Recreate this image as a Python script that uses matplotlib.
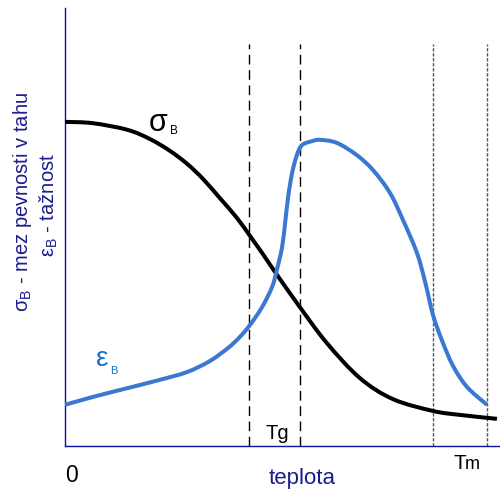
import matplotlib
matplotlib.use("Agg")
import matplotlib.pyplot as plt
from matplotlib.path import Path
from matplotlib.patches import PathPatch

plt.rcParams.update({
    "font.family": ["Liberation Sans", "DejaVu Sans"],
    "mathtext.fontset": "custom",
    "mathtext.rm": "Liberation Sans",
    "mathtext.it": "Liberation Sans:italic",
    "mathtext.bf": "Liberation Sans:bold",
})

# --- křivky (teplota 0..100, hodnota 0..100) ---
sigma_t = [0, 6.4, 14.3, 19.5, 24.1, 28.1, 31.7, 35.6, 39.5, 42.5, 45.5,
           48.3, 54.0, 60.2, 67.8, 75.4, 84.6, 90.8, 99.3]
sigma_v = [74.0, 73.7, 72.2, 70.1, 67.4, 64.4, 61.0, 56.6, 52.1, 48.0, 43.8,
           39.7, 31.7, 23.5, 15.5, 10.7, 8.0, 7.1, 6.2]

eps_t = [0, 6.4, 14.3, 21.8, 28.1, 33.3, 37.5, 40.2, 42.5, 45.3, 47.6, 48.7,
         49.9, 50.6, 51.3, 52.2, 53.3, 54.5, 56.8, 58.6, 62.5, 67.1, 70.8,
         74.7, 77.7, 80.9, 82.8, 84.6, 86.7, 89.2, 92.4, 97.0]
eps_v = [9.4, 11.2, 13.2, 15.1, 16.9, 19.4, 22.4, 24.9, 27.6, 31.7, 36.3,
         40.2, 45.4, 50.9, 56.9, 62.3, 66.4, 68.7, 69.6, 69.9, 69.2, 66.4,
         63.0, 57.8, 51.6, 44.1, 37.4, 29.9, 24.0, 18.3, 13.5, 9.4]

# oblast skelného přechodu a tání
tg_lines = [42.3, 54.0]
tm_lines = [84.6, 97.0]
line_top = 91.8

NAVY = "#1c1c8e"
SPINE = "#1010a0"
BLUE = "#3a78d2"
EPS_TXT = "#1f6fc4"


def smooth_path(xs, ys):
    """Hladká Bézierova cesta procházející zadanými body (Catmull-Rom)."""
    pts = list(zip(xs, ys))
    verts = [pts[0]]
    codes = [Path.MOVETO]
    n = len(pts)
    for i in range(n - 1):
        p0 = pts[i - 1] if i > 0 else pts[i]
        p1 = pts[i]
        p2 = pts[i + 1]
        p3 = pts[i + 2] if i + 2 < n else pts[i + 1]
        c1 = (p1[0] + (p2[0] - p0[0]) / 6, p1[1] + (p2[1] - p0[1]) / 6)
        c2 = (p2[0] - (p3[0] - p1[0]) / 6, p2[1] - (p3[1] - p1[1]) / 6)
        verts += [c1, c2, p2]
        codes += [Path.CURVE4] * 3
    return Path(verts, codes)


fig = plt.figure(figsize=(5, 4.9), dpi=100)
ax = fig.add_axes([0.13, 44 / 490, 0.87, 438 / 490])
ax.set_xlim(0, 100)
ax.set_ylim(0, 100)

for x in tg_lines:
    ax.plot([x, x], [0, line_top], color="black", lw=1.0,
            dashes=(7, 4), zorder=1)
for x in tm_lines:
    ax.plot([x, x], [0, line_top], color="#555555", lw=1.0,
            dashes=(2.4, 1.2), zorder=1)

ax.add_patch(PathPatch(smooth_path(sigma_t, sigma_v), fill=False,
                       edgecolor="black", lw=2.9, joinstyle="round",
                       capstyle="butt", zorder=3))
ax.add_patch(PathPatch(smooth_path(eps_t, eps_v), fill=False,
                       edgecolor=BLUE, lw=2.9, joinstyle="round",
                       capstyle="butt", zorder=3))

for side in ("top", "right"):
    ax.spines[side].set_visible(False)
for side in ("left", "bottom"):
    ax.spines[side].set_color(SPINE)
    ax.spines[side].set_linewidth(1.0)
ax.set_xticks([])
ax.set_yticks([])


def ftext(px, py, s, **kw):
    """Text v pixelových souřadnicích obrázku (počátek vlevo nahoře)."""
    fig.text(px / 500, 1 - py / 490, s, **kw)


# popisky křivek
ftext(158, 131, "σ", fontsize=22, ha="center", va="baseline", color="black")
ftext(170, 134, "B", fontsize=8.5, ha="left", va="baseline", color="black")
ftext(102, 366, "ε", fontsize=20, ha="center", va="baseline", color=EPS_TXT)
ftext(110, 374, "B", fontsize=8, ha="left", va="baseline", color=EPS_TXT)

# teploty
ftext(266, 439, "Tg", fontsize=14.5, ha="left", va="baseline", color="black")
ftext(453, 469, "T", fontsize=15, ha="left", va="baseline", color="black")
ftext(465, 469, "m", fontsize=13, ha="left", va="baseline", color="black")
ftext(71, 482, "0", fontsize=16.5, ha="center", va="baseline", color="black")
ftext(302, 484, "teplota", fontsize=16, ha="center", va="baseline", color=NAVY)

# osa y
ftext(23, 202, "σ$_\\mathrm{B}$ - mez pevnosti v tahu", fontsize=14.5,
      rotation=90, ha="center", va="center", color=NAVY)
ftext(49, 205, "ε$_\\mathrm{B}$ - tažnost", fontsize=14.5,
      rotation=90, ha="center", va="center", color=NAVY)

fig.savefig("out.png", dpi=100)
